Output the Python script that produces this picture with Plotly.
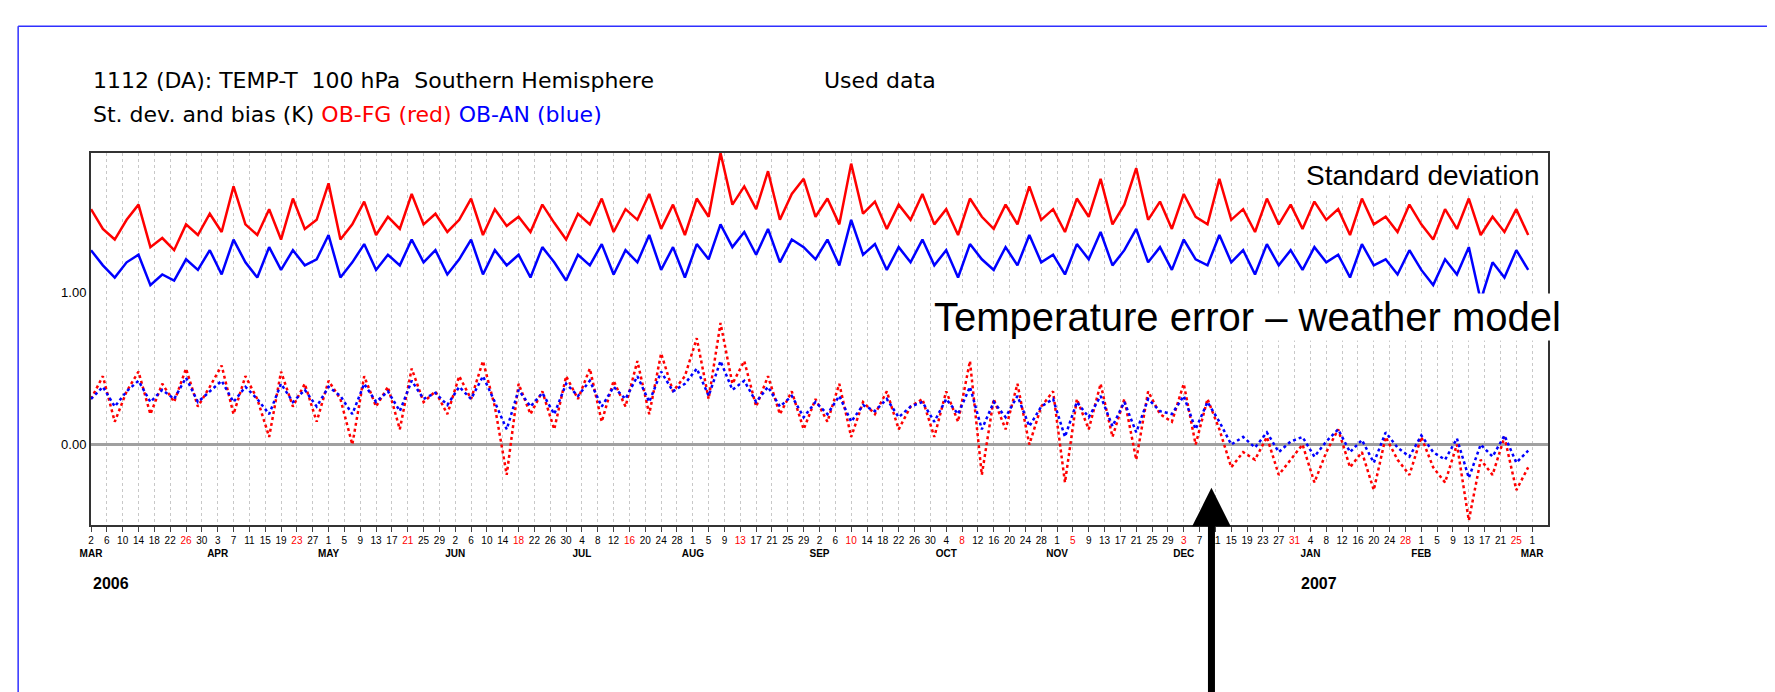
import pandas as pd
import plotly.graph_objects as go

# one value every 3 days, starting 2 Mar 2006
dates = pd.date_range('2006-03-02', periods=122, freq='3D')

std_fg = [1.55, 1.42, 1.35, 1.48, 1.58, 1.30, 1.36, 1.28, 1.45, 1.38, 1.52,
          1.40, 1.70, 1.45, 1.38, 1.55, 1.35, 1.62, 1.42, 1.48, 1.72,
          1.35, 1.45, 1.60, 1.38, 1.50, 1.42, 1.65, 1.45, 1.52, 1.40,
          1.48, 1.62, 1.38, 1.55, 1.44, 1.50, 1.40, 1.58, 1.46, 1.35,
          1.52, 1.45, 1.62, 1.40, 1.55, 1.48, 1.65, 1.42, 1.58, 1.38,
          1.62, 1.50, 1.92, 1.58, 1.70, 1.55, 1.80, 1.48, 1.65, 1.75,
          1.50, 1.62, 1.45, 1.85, 1.52, 1.60, 1.42, 1.58, 1.48, 1.65,
          1.45, 1.55, 1.38, 1.62, 1.50, 1.42, 1.58, 1.45, 1.70, 1.48,
          1.55, 1.40, 1.62, 1.50, 1.75, 1.45, 1.58, 1.82, 1.48, 1.60,
          1.42, 1.65, 1.50, 1.45, 1.75, 1.48, 1.55, 1.40, 1.62, 1.45, 1.58,
          1.42, 1.60, 1.48, 1.55, 1.38, 1.62, 1.45, 1.50, 1.40, 1.58,
          1.45, 1.35, 1.55, 1.42, 1.62, 1.38, 1.50, 1.40, 1.55, 1.38]

std_an = [1.28, 1.18, 1.10, 1.20, 1.25, 1.05, 1.12, 1.08, 1.22, 1.15, 1.28,
          1.12, 1.35, 1.20, 1.10, 1.30, 1.15, 1.28, 1.18, 1.22, 1.38,
          1.10, 1.20, 1.32, 1.15, 1.25, 1.18, 1.35, 1.20, 1.28, 1.12,
          1.22, 1.35, 1.12, 1.28, 1.18, 1.25, 1.10, 1.30, 1.20, 1.08,
          1.25, 1.18, 1.32, 1.12, 1.28, 1.20, 1.38, 1.15, 1.30, 1.10,
          1.32, 1.22, 1.45, 1.30, 1.40, 1.25, 1.42, 1.20, 1.35, 1.30,
          1.22, 1.35, 1.18, 1.48, 1.25, 1.32, 1.15, 1.30, 1.20, 1.35,
          1.18, 1.28, 1.10, 1.32, 1.22, 1.15, 1.30, 1.18, 1.38, 1.20,
          1.25, 1.12, 1.32, 1.22, 1.40, 1.18, 1.28, 1.42, 1.20, 1.30,
          1.15, 1.35, 1.22, 1.18, 1.38, 1.20, 1.28, 1.12, 1.32, 1.18, 1.28,
          1.15, 1.30, 1.20, 1.25, 1.10, 1.32, 1.18, 1.22, 1.12, 1.28,
          1.15, 1.05, 1.22, 1.12, 1.30, 0.95, 1.20, 1.10, 1.28, 1.15]

bias_fg = [0.30, 0.45, 0.15, 0.35, 0.48, 0.20, 0.40, 0.28, 0.50, 0.25, 0.38,
           0.52, 0.20, 0.45, 0.30, 0.05, 0.48, 0.25, 0.40, 0.15, 0.42,
           0.30, 0.00, 0.45, 0.25, 0.38, 0.10, 0.50, 0.28, 0.35, 0.20,
           0.45, 0.30, 0.55, 0.25, -0.20, 0.40, 0.20, 0.35, 0.10, 0.45,
           0.30, 0.50, 0.15, 0.42, 0.25, 0.55, 0.20, 0.60, 0.35, 0.45,
           0.70, 0.30, 0.80, 0.40, 0.55, 0.25, 0.45, 0.20, 0.35, 0.10,
           0.30, 0.15, 0.40, 0.05, 0.28, 0.20, 0.35, 0.10, 0.25, 0.30,
           0.05, 0.35, 0.15, 0.55, -0.20, 0.30, 0.10, 0.40, 0.00, 0.25,
           0.35, -0.25, 0.30, 0.10, 0.40, 0.05, 0.30, -0.10, 0.35, 0.20,
           0.15, 0.40, 0.00, 0.30, 0.10, -0.15, -0.05, -0.10, 0.05, -0.20, -0.10,
           0.00, -0.25, -0.05, 0.10, -0.15, -0.05, -0.30, 0.05, -0.10, -0.20,
           0.05, -0.15, -0.25, 0.00, -0.50, -0.10, -0.20, 0.05, -0.30, -0.15]

bias_an = [0.30, 0.38, 0.25, 0.35, 0.42, 0.28, 0.36, 0.30, 0.44, 0.28, 0.35,
           0.42, 0.28, 0.38, 0.30, 0.20, 0.40, 0.28, 0.36, 0.25, 0.38,
           0.32, 0.20, 0.40, 0.28, 0.35, 0.22, 0.42, 0.30, 0.34, 0.26,
           0.38, 0.30, 0.45, 0.28, 0.10, 0.36, 0.25, 0.34, 0.20, 0.40,
           0.32, 0.42, 0.25, 0.38, 0.30, 0.45, 0.28, 0.48, 0.35, 0.40,
           0.50, 0.32, 0.55, 0.36, 0.42, 0.28, 0.38, 0.25, 0.32, 0.18,
           0.28, 0.20, 0.32, 0.15, 0.26, 0.22, 0.30, 0.18, 0.25, 0.28,
           0.15, 0.30, 0.20, 0.38, 0.10, 0.28, 0.18, 0.32, 0.12, 0.25,
           0.30, 0.05, 0.28, 0.18, 0.32, 0.12, 0.28, 0.08, 0.30, 0.22,
           0.20, 0.32, 0.10, 0.28, 0.15, 0.00, 0.05, -0.02, 0.08, -0.05, 0.02,
           0.05, -0.08, 0.02, 0.10, -0.05, 0.03, -0.12, 0.08, -0.02, -0.08,
           0.06, -0.05, -0.10, 0.04, -0.22, 0.00, -0.08, 0.06, -0.12, -0.04]

# axis ticks every 4 days, Sundays in red, month name under first tick of month
tick_dates = pd.date_range('2006-03-02', '2007-03-01', freq='4D')
tick_text = []
prev_month = None
for d in tick_dates:
    s = str(d.day)
    if d.dayofweek == 6:
        s = f"<span style='color:red'>{s}</span>"
    if d.month != prev_month:
        s += '<br><b>' + d.strftime('%b').upper() + '</b>'
        prev_month = d.month
    tick_text.append(s)

fig = go.Figure()
fig.add_trace(go.Scatter(x=dates, y=std_fg, mode='lines', line=dict(color='#ff0000', width=2.5)))
fig.add_trace(go.Scatter(x=dates, y=std_an, mode='lines', line=dict(color='#0000ff', width=2.5)))
fig.add_trace(go.Scatter(x=dates, y=bias_fg, mode='lines', line=dict(color='#ff0000', width=2.5, dash='dot')))
fig.add_trace(go.Scatter(x=dates, y=bias_an, mode='lines', line=dict(color='#0000ff', width=2.5, dash='dot')))

fig.update_layout(
    width=1775, height=692, showlegend=False,
    plot_bgcolor='white', paper_bgcolor='white',
    margin=dict(l=83, r=235, t=145, b=175),
    font=dict(family='Liberation Sans, Arial', color='black'),
)
fig.update_xaxes(range=['2006-03-02', '2007-03-05'], tickvals=tick_dates, ticktext=tick_text,
                 tickangle=0, tickfont=dict(size=10), ticks='outside', ticklen=5,
                 showgrid=True, gridcolor='#c8c8c8', griddash='dot', gridwidth=1,
                 showline=True, linecolor='#333', linewidth=2, mirror=True)
fig.update_yaxes(range=[-0.53, 1.92], tickvals=[0, 1], tickformat='.2f', tickfont=dict(size=13),
                 showgrid=False, zeroline=True, zerolinecolor='#a0a0a0', zerolinewidth=3,
                 showline=True, linecolor='#333', linewidth=2, mirror=True)

# blue frame
fig.add_shape(type='line', xref='paper', yref='paper', x0=-0.05, x1=1.2, y0=1.341, y1=1.341,
              line=dict(color='#3030ff', width=1.5))
fig.add_shape(type='line', xref='paper', yref='paper', x0=-0.05, x1=-0.05, y0=1.341, y1=-0.48,
              line=dict(color='#3030ff', width=1.5))

title_font = dict(size=22, family='DejaVu Sans')
fig.add_annotation(xref='paper', yref='paper', x=0, y=1.155, xanchor='left', yanchor='bottom', showarrow=False,
                   text='1112 (DA): TEMP-T  100 hPa  Southern Hemisphere', font=title_font)
fig.add_annotation(xref='paper', yref='paper', x=0.502, y=1.155, xanchor='left', yanchor='bottom', showarrow=False,
                   text='Used data', font=title_font)
fig.add_annotation(xref='paper', yref='paper', x=0, y=1.065, xanchor='left', yanchor='bottom', showarrow=False,
                   text="St. dev. and bias (K) <span style='color:red'>OB-FG (red)</span> "
                        "<span style='color:blue'>OB-AN (blue)</span>", font=title_font)
fig.add_annotation(xref='paper', yref='paper', x=0, y=-0.13, xanchor='left', yanchor='top', showarrow=False,
                   text='<b>2006</b>', font=dict(size=16))
fig.add_annotation(xref='x', yref='paper', x='2007-01-01', y=-0.13, xanchor='left', yanchor='top', showarrow=False,
                   text='<b>2007</b>', font=dict(size=16))
fig.add_annotation(xref='paper', yref='paper', x=0.998, y=0.995, xanchor='right', yanchor='top', showarrow=False,
                   text='Standard deviation', font=dict(size=28), bgcolor='white', borderpad=4)
fig.add_annotation(xref='paper', yref='paper', x=1.01, y=0.56, xanchor='right', yanchor='middle', showarrow=False,
                   text='Temperature error – weather model', font=dict(size=40), bgcolor='white', borderpad=1)
fig.add_annotation(xref='x', yref='paper', x='2006-12-10', y=0.1, ax=0, ay=210, showarrow=True,
                   arrowhead=2, arrowsize=1.1, arrowwidth=7, arrowcolor='black', text='')

fig.write_html('out.html')
